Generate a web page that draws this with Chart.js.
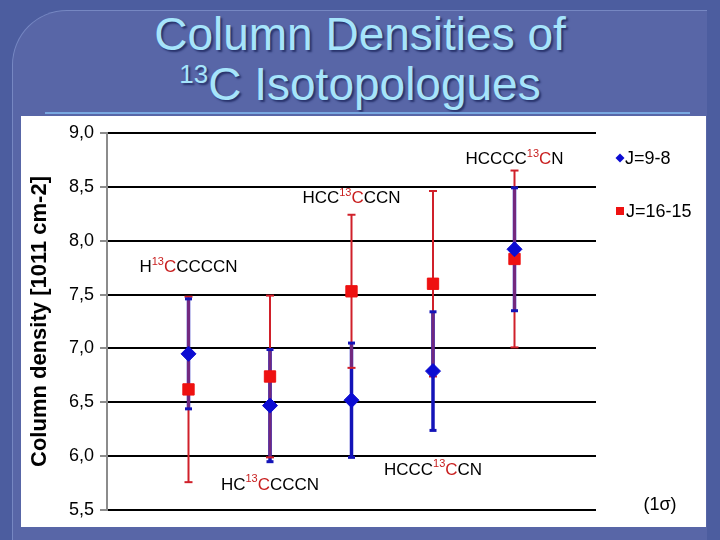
<!DOCTYPE html>
<html>
<head>
<meta charset="utf-8">
<script src="https://cdn.jsdelivr.net/npm/chart.js@4.4.1/dist/chart.umd.min.js"></script>
<style>
  body {
    margin: 0;
    width: 720px;
    height: 540px;
    overflow: hidden;
    position: relative;
    background: #4c5d9f;
    font-family: "Liberation Sans", Arial, sans-serif;
  }
  #frame {
    position: absolute;
    left: 12px;
    top: 10px;
    width: 694px;
    height: 540px;
    background: #5866a7;
    border-left: 1px solid #7687c2;
    border-top: 1px solid #7687c2;
    border-top-left-radius: 55px;
  }
  .title {
    position: absolute;
    left: 0;
    width: 720px;
    text-align: center;
    color: #a6e4fb;
    font-size: 46px;
    line-height: 46px;
    text-shadow: 2px 2px 2px #27326b;
  }
  #t1 { top: 11px; }
  #t2 { top: 61px; }
  #t2 .sup { font-size: 26px; line-height: 0; vertical-align: 17px; }
  #rule {
    position: absolute;
    left: 45px;
    top: 112px;
    width: 645px;
    height: 2px;
    background: #79a8e0;
  }
  #panel {
    position: absolute;
    left: 21px;
    top: 116px;
    width: 685px;
    height: 411px;
    background: #ffffff;
  }
</style>
</head>
<body>
<div id="frame"></div>
<div class="title" id="t1">Column Densities of</div>
<div class="title" id="t2"><span class="sup">13</span>C Isotopologues</div>
<div id="rule"></div>
<div id="panel"><canvas id="chart"></canvas></div>

<script>
// isotopologues, one per column; "13" marks the substituted carbon
const categories = ["H13CCCCCN", "HC13CCCCN", "HCC13CCCN", "HCCC13CCN", "HCCCC13CN"];
const categoryX = [1, 2, 3, 4, 5];
const labelY = [7.75, 5.73, 8.39, 5.87, 8.75];

const seriesNames = ["J=9-8", "J=16-15"];
const j98Values = [6.95, 6.47, 6.52, 6.79, 7.92];
const j98Errors = [0.51, 0.52, 0.53, 0.55, 0.57];
const j1615Values = [6.62, 6.74, 7.53, 7.60, 7.83];
const j1615Errors = [0.86, 0.75, 0.71, 0.86, 0.82];

const yMin = 5.5;
const yMax = 9.0;
const yStep = 0.5;

const FONT = '"Liberation Sans", Arial, sans-serif';
const BLUE = "#0c0cd2";
const RED = "#ee1111";
const BLUE_BAR = "#1414b8";
const RED_BAR = "#d0202a";
const MIX_BAR = "#72287f";
const LABEL_RED = "#c81e1e";

function toPoints(values) {
  return values.map((v, i) => ({ x: categoryX[i], y: v }));
}

// vertical 1-sigma bars, drawn under the markers
const errorBars = {
  id: "errorBars",
  beforeDatasetsDraw(chart) {
    const { ctx, scales } = chart;
    const x = scales.x, y = scales.y;
    ctx.save();
    categoryX.forEach((cx, i) => {
      const px = x.getPixelForValue(cx);
      const bLo = j98Values[i] - j98Errors[i], bHi = j98Values[i] + j98Errors[i];
      const rLo = j1615Values[i] - j1615Errors[i], rHi = j1615Values[i] + j1615Errors[i];

      ctx.strokeStyle = BLUE_BAR;
      ctx.lineWidth = 3.5;
      ctx.beginPath();
      ctx.moveTo(px, y.getPixelForValue(bLo));
      ctx.lineTo(px, y.getPixelForValue(bHi));
      ctx.stroke();

      ctx.strokeStyle = RED_BAR;
      ctx.lineWidth = 2;
      ctx.beginPath();
      ctx.moveTo(px, y.getPixelForValue(rLo));
      ctx.lineTo(px, y.getPixelForValue(rHi));
      ctx.stroke();

      const lo = Math.max(bLo, rLo), hi = Math.min(bHi, rHi);
      if (hi > lo) {
        ctx.strokeStyle = MIX_BAR;
        ctx.lineWidth = 3;
        ctx.beginPath();
        ctx.moveTo(px, y.getPixelForValue(lo));
        ctx.lineTo(px, y.getPixelForValue(hi));
        ctx.stroke();
      }

      // caps
      ctx.lineWidth = 2;
      ctx.strokeStyle = RED_BAR;
      [rLo, rHi].forEach((v) => {
        const py = y.getPixelForValue(v);
        ctx.beginPath();
        ctx.moveTo(px - 4, py);
        ctx.lineTo(px + 4, py);
        ctx.stroke();
      });
      ctx.lineWidth = 3;
      ctx.strokeStyle = BLUE_BAR;
      [bLo, bHi].forEach((v) => {
        const py = y.getPixelForValue(v);
        ctx.beginPath();
        ctx.moveTo(px - 3.5, py);
        ctx.lineTo(px + 3.5, py);
        ctx.stroke();
      });
    });
    ctx.restore();
  },
};

// molecule names with a red superscript 13 and red C, legend and (1σ) note
const annotations = {
  id: "annotations",
  afterDraw(chart) {
    const { ctx, scales, chartArea } = chart;
    const big = "17px " + FONT;
    const small = "11px " + FONT;
    ctx.save();
    ctx.textBaseline = "middle";
    ctx.textAlign = "left";

    categories.forEach((name, i) => {
      const k = name.indexOf("13");
      const parts = [
        { t: name.slice(0, k), f: big, c: "#000", dy: 0 },
        { t: "13", f: small, c: LABEL_RED, dy: -6 },
        { t: name.charAt(k + 2), f: big, c: LABEL_RED, dy: 0 },
        { t: name.slice(k + 3), f: big, c: "#000", dy: 0 },
      ];
      let w = 0;
      parts.forEach((p) => { ctx.font = p.f; p.w = ctx.measureText(p.t).width; w += p.w; });
      let px = scales.x.getPixelForValue(categoryX[i]) - w / 2;
      const py = scales.y.getPixelForValue(labelY[i]);
      parts.forEach((p) => {
        ctx.font = p.f;
        ctx.fillStyle = p.c;
        ctx.fillText(p.t, px, py + p.dy);
        px += p.w;
      });
    });

    // legend
    const lx = chartArea.right + 24;
    ctx.font = "18px " + FONT;
    ctx.fillStyle = BLUE;
    ctx.beginPath();
    ctx.moveTo(lx - 4.5, 42);
    ctx.lineTo(lx, 37.5);
    ctx.lineTo(lx + 4.5, 42);
    ctx.lineTo(lx, 46.5);
    ctx.closePath();
    ctx.fill();
    ctx.fillStyle = "#000";
    ctx.fillText(seriesNames[0], lx + 5, 43);

    ctx.fillStyle = RED;
    ctx.fillRect(lx - 4, 91, 8, 8);
    ctx.fillStyle = "#000";
    ctx.fillText(seriesNames[1], lx + 6, 96);

    ctx.font = "18px " + FONT;
    ctx.textAlign = "center";
    ctx.fillText("(1\u03c3)", 639, 389);
    ctx.restore();
  },
};

new Chart(document.getElementById("chart"), {
  type: "scatter",
  data: {
    datasets: [
      {
        label: seriesNames[0],
        data: toPoints(j98Values),
        pointStyle: "rectRot",
        pointRadius: 7.5,
        pointHoverRadius: 7.5,
        backgroundColor: BLUE,
        borderColor: BLUE,
        borderWidth: 1,
      },
      {
        label: seriesNames[1],
        data: toPoints(j1615Values),
        pointStyle: "rect",
        pointRadius: 8,
        pointHoverRadius: 8,
        backgroundColor: RED,
        borderColor: RED,
        borderWidth: 1,
      },
    ],
  },
  options: {
    responsive: true,
    maintainAspectRatio: false,
    animation: false,
    layout: { padding: { left: 0, top: 15, right: 110, bottom: 14 } },
    plugins: {
      legend: { display: false },
      tooltip: { enabled: false },
    },
    scales: {
      x: {
        type: "linear",
        min: 0,
        max: 6,
        display: false,
      },
      y: {
        min: yMin,
        max: yMax,
        afterFit: (scale) => { scale.width = 86; },
        ticks: {
          stepSize: yStep,
          color: "#000",
          padding: 6,
          font: { size: 18, family: FONT },
          callback: (v) => v.toFixed(1).replace(".", ","),
        },
        grid: {
          color: "#000",
          lineWidth: 2,
          tickColor: "#8c8c8c",
          tickLength: 7,
        },
        border: { color: "#8c8c8c", width: 2 },
        title: {
          display: true,
          text: "Column density [1011 cm-2]",
          color: "#000",
          padding: { top: 6, bottom: 0 },
          font: { size: 22, weight: "bold", family: FONT },
        },
      },
    },
  },
  plugins: [errorBars, annotations],
});
</script>
</body>
</html>
